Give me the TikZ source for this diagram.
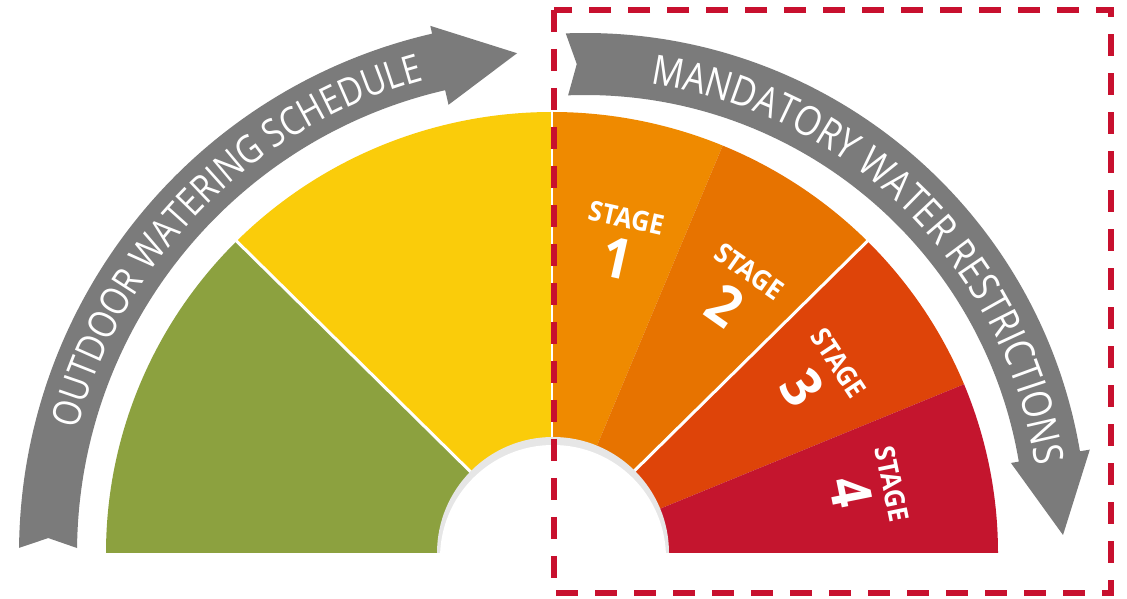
\documentclass[tikz,border=0pt]{standalone}
\usepackage{fontspec}
\setmainfont{Open Sans}
\newfontfamily\arcfont[FakeStretch=0.85]{Open Sans}
\newfontfamily\labfont[FakeStretch=0.92]{Open Sans}
\usetikzlibrary{decorations.text}
\definecolor{cgreen}{HTML}{8CA13F}
\definecolor{cyellow}{HTML}{FACC0A}
\definecolor{cstageone}{HTML}{EF8A00}
\definecolor{cstagetwo}{HTML}{E77300}
\definecolor{cstagethree}{HTML}{DE4409}
\definecolor{cstagefour}{HTML}{C4152E}
\definecolor{agray}{HTML}{7B7B7B}
\definecolor{holegray}{HTML}{E6E6E6}
\definecolor{dashred}{HTML}{C8102E}
\tikzset{
  stagelbl/.style={text=white, inner sep=0pt, font=\labfont\bfseries\fontsize{27.5}{27.5}\selectfont},
  stagenum/.style={text=white, inner sep=0pt, font=\labfont\bfseries\fontsize{56}{56}\selectfont},
  sepline/.style={white, line width=3pt},
  arctext/.style={decorate, decoration={text along path, text align=center, text color=white}}
}
\begin{document}
\begin{tikzpicture}[x=1pt,y=1pt]
\useasboundingbox (0,0) rectangle (1127,599);
\fill[white] (0,0) rectangle (1127,599);
% fan
\begin{scope}[shift={(552,46)}]
  \fill[cgreen] (0,0) -- (180:446pt and 441pt) arc[start angle=180,end angle=135,x radius=446pt,y radius=441pt] -- cycle;
  \fill[cyellow] (0,0) -- (135:446pt and 441pt) arc[start angle=135,end angle=90,x radius=446pt,y radius=441pt] -- cycle;
  \fill[cstageone] (0,0) -- (90:446pt and 441pt) arc[start angle=90,end angle=67.5,x radius=446pt,y radius=441pt] -- cycle;
  \fill[cstagetwo] (0,0) -- (67.5:446pt and 441pt) arc[start angle=67.5,end angle=45,x radius=446pt,y radius=441pt] -- cycle;
  \fill[cstagethree] (0,0) -- (45:446pt and 441pt) arc[start angle=45,end angle=22.5,x radius=446pt,y radius=441pt] -- cycle;
  \fill[cstagefour] (0,0) -- (22.5:446pt and 441pt) arc[start angle=22.5,end angle=0,x radius=446pt,y radius=441pt] -- cycle;
  \draw[sepline] (135:90pt) -- (135:450pt and 445pt);
  \draw[sepline] (45:90pt) -- (45:450pt and 445pt);
  \draw[sepline, line width=2.5pt] (90:90pt) -- (90:446pt);
\end{scope}
% hole
\begin{scope}
  \clip (0,46) rectangle (1127,599);
  \fill[holegray] (553,46) circle[radius=116pt];
  \fill[white] (553,41) circle[radius=113pt];
\end{scope}
% left arrow
\begin{scope}[shift={(552,46)}]
  \fill[agray] (179.45:533pt) arc[start angle=179.45,end angle=103,radius=533pt]
     -- (103:541pt) -- (94:501pt) -- (103:460pt) -- (103:475pt)
     arc[start angle=103,end angle=179.4,radius=475pt] -- (178.3:504pt) -- cycle;
  \path[arctext, decoration={text={|\arcfont\fontsize{39}{39}\selectfont|OUTDOOR WATERING SCHEDULE}}]
     (175.3:490pt) arc[start angle=175.3,end angle=95.3,radius=490pt];
  \node[stagelbl, rotate=-12.5] (s1) at (77.5:343pt) {STAGE};
  \node[stagenum, rotate=-12.5] (n1) at (77.5:302pt) {1};
  \node[stagelbl, rotate=-35] (s2) at (55:344pt) {STAGE};
  \node[stagenum, rotate=-35] (n2) at (55:302pt) {2};
  \node[stagelbl, rotate=-56.5] (s3) at (33.5:344pt) {STAGE};
  \node[stagenum, rotate=-56.5] (n3) at (33.5:300pt) {3};
  \node[stagelbl, rotate=-78.5] (s4) at (11.5:347pt) {STAGE};
  \node[stagenum, rotate=-78.5] (n4) at (11.5:305pt) {4};
\end{scope}
% right arrow
\begin{scope}[shift={(585,64)}]
  \fill[agray] (92.2:502pt) arc[start angle=92.2,end angle=9.6,radius=502pt]
     -- (9.6:512pt) -- (0:478pt) -- (9.6:432pt) -- (9.6:440pt)
     arc[start angle=9.6,end angle=92.2,radius=440pt] -- (91:471pt) -- cycle;
  \path[arctext, decoration={text={|\arcfont\fontsize{41}{41}\selectfont|MANDATORY WATER RESTRICTIONS}}]
     (89:456pt) arc[start angle=89,end angle=1.5,radius=456pt];
\end{scope}
% dashed frame
\draw[dashred, line width=5.5pt, dash pattern=on 22pt off 17pt] (554,589) rectangle (1111,6);
\end{tikzpicture}
\end{document}
